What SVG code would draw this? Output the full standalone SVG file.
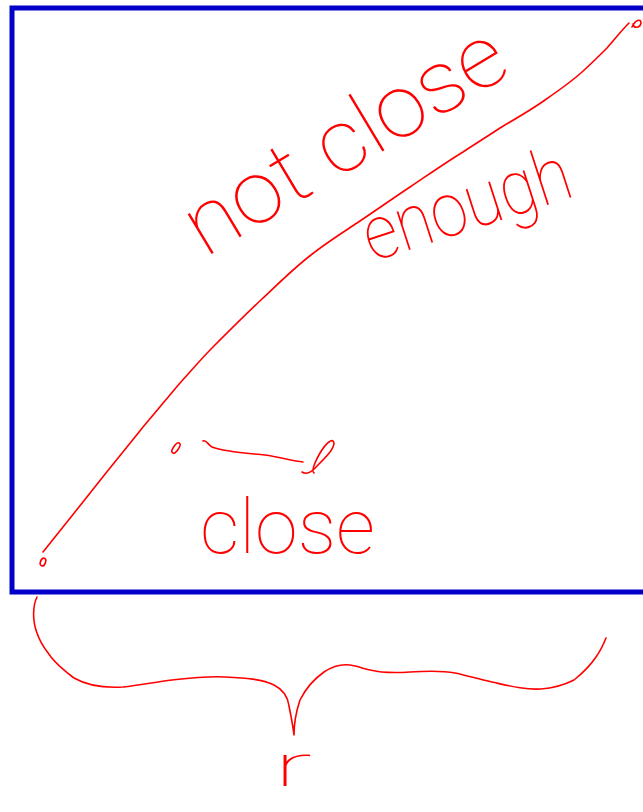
<svg xmlns="http://www.w3.org/2000/svg" width="643" height="812" viewBox="0 0 643 812">
<style>
.ink{fill:none;stroke:#ff0000;stroke-width:1.6;stroke-linecap:round;stroke-linejoin:round}
.hand{fill:#ff0000;font-family:Roboto,"DejaVu Sans",sans-serif;font-weight:100}
</style>
<rect width="643" height="812" fill="#ffffff"/>
<g id="frame">
<rect x="12" y="8" width="650" height="584" fill="none" stroke="#0000c8" stroke-width="5"/>
</g>
<g id="connectors">
<path class="ink" d="M43,552 C62,528 80,506 98,483 C113,464 128,446 143,427 C156,412 168,397 180,383 C191,371 201,359 213,347 C229,331 245,315 262,299 C278,284 294,268 311,255 C326,243 342,233 357,223 C375,211 392,199 410,187 C428,175 445,163 463,152 C475,144 488,136 500,128 C515,119 531,110 545,100 C558,91 571,82 582,72 C591,64 599,56 607,48 C614,40 621,31 629,23"/>
<path class="ink" d="M632,27 C635,20 641,18 641,23 C640,28 634,29 633,24"/>
<ellipse class="ink" cx="43" cy="562" rx="2.5" ry="4" transform="rotate(20 43 562)"/>
<ellipse class="ink" cx="176" cy="448" rx="2.5" ry="6" transform="rotate(35 176 448)"/>
<path class="ink" d="M203,441 C206,439 208,445 212,447 C225,452 245,453 265,455 C280,457 292,461 303,462"/>
<path class="ink" d="M302,472 C306,475 312,472 318,465 C326,457 334,449 334,443 C333,437 326,443 320,453 C315,462 311,471 314,473"/>
<path class="ink" d="M37,597 C33,605 32,620 37,633 C41,645 46,650 51,657 C58,666 66,672 74,678 C88,686 106,688 123,687 C140,685 156,682 172,680 C190,678 207,676 225,677 C245,678 262,679 274,685 C284,690 288,698 289,706 C291,716 293,726 294,735 C294,725 296,712 300,700 C306,688 314,679 324,672 C333,666 342,664 350,665 C358,666 364,669 370,670 C382,673 395,673 410,672 C425,671 440,670 455,673 C465,675 478,679 492,682 C510,686 525,690 541,689 C556,688 566,684 574,680 C584,672 590,666 596,657 C601,650 604,643 606,638"/>
</g>
<g id="label-not-close-enough">
<text class="hand" x="205" y="258" font-size="88" textLength="360" lengthAdjust="spacingAndGlyphs" transform="rotate(-31 205 258)">not close</text>
<text class="hand" x="372" y="262" font-size="76" textLength="215" lengthAdjust="spacingAndGlyphs" transform="rotate(-18 372 262)">enough</text>
</g>
<g id="label-close">
<text class="hand" x="200" y="553" font-size="76" textLength="175" lengthAdjust="spacingAndGlyphs">close</text>
</g>
<g id="label-r">
<text class="hand" x="274" y="786" font-size="60" textLength="38" lengthAdjust="spacingAndGlyphs">r</text>
</g>
</svg>
